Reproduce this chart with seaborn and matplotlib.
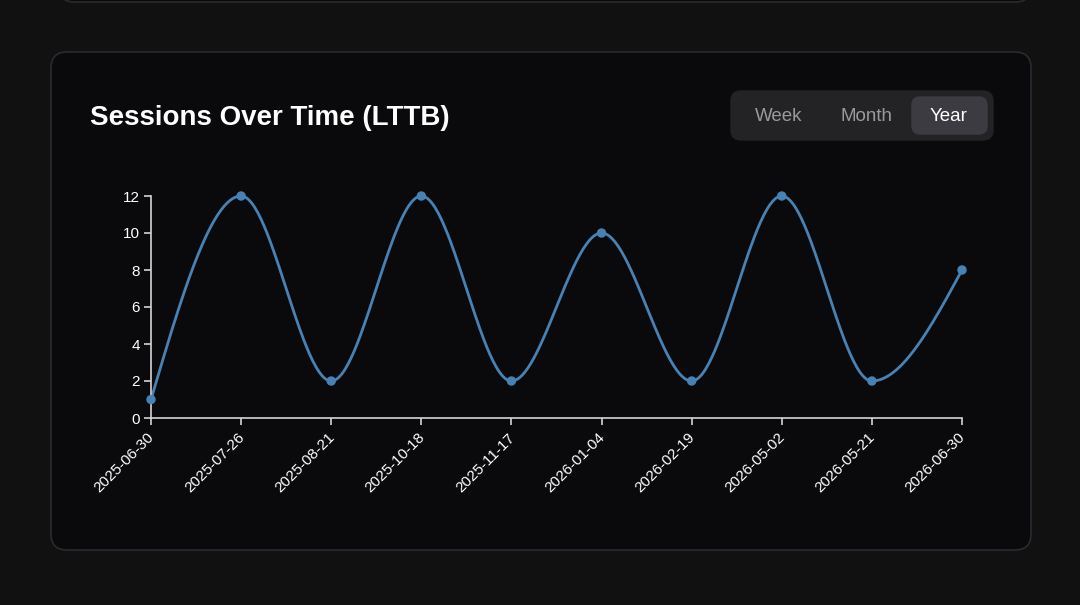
import numpy as np
import pandas as pd
import matplotlib
matplotlib.use("Agg")
import matplotlib.pyplot as plt
import matplotlib.transforms as mtransforms
import seaborn as sns
from matplotlib.patches import FancyBboxPatch

# data
dates = ["2025-06-30", "2025-07-26", "2025-08-21", "2025-10-18", "2025-11-17",
         "2026-01-04", "2026-02-19", "2026-05-02", "2026-05-21", "2026-06-30"]
sessions = [1, 12, 2, 12, 2, 10, 2, 12, 2, 8]
y_ticks = [0, 2, 4, 6, 8, 10, 12]
ranges = ["Week", "Month", "Year"]
active_range = "Year"
title = "Sessions Over Time (LTTB)"

LINE = "#4682b4"
BG = "#111112"
CARD = "#0a0a0c"
BORDER = "#2b2b2f"
AXIS = "#d4d4d4"


def monotone_x(xs, ys, n=60):
    # same smoothing as a monotone-x curve: flat at extrema, no overshoot
    xs = np.asarray(xs, float)
    ys = np.asarray(ys, float)
    h = np.diff(xs)
    s = np.diff(ys) / h
    sgn = lambda v: -1.0 if v < 0 else 1.0
    t = np.zeros(len(xs))
    for i in range(1, len(xs) - 1):
        p = (s[i - 1] * h[i] + s[i] * h[i - 1]) / (h[i - 1] + h[i])
        t[i] = (sgn(s[i - 1]) + sgn(s[i])) * min(abs(s[i - 1]), abs(s[i]), 0.5 * abs(p))
    t[0] = (3 * s[0] - t[1]) / 2
    t[-1] = (3 * s[-1] - t[-2]) / 2
    out_x, out_y = [], []
    u = np.linspace(0, 1, n)
    for i in range(len(xs) - 1):
        dx = h[i] / 3
        px = [xs[i], xs[i] + dx, xs[i + 1] - dx, xs[i + 1]]
        py = [ys[i], ys[i] + dx * t[i], ys[i + 1] - dx * t[i + 1], ys[i + 1]]
        b = [(1 - u) ** 3, 3 * u * (1 - u) ** 2, 3 * u ** 2 * (1 - u), u ** 3]
        out_x.extend(sum(b[k] * px[k] for k in range(4)))
        out_y.extend(sum(b[k] * py[k] for k in range(4)))
    return np.array(out_x), np.array(out_y)


df = pd.DataFrame({"pos": np.arange(len(dates)), "date": dates, "sessions": sessions})
cx, cy = monotone_x(df["pos"], df["sessions"])
curve = pd.DataFrame({"x": cx, "y": cy})

sns.set_theme(style="ticks")
plt.rcParams["font.family"] = ["Liberation Sans", "DejaVu Sans"]

W, H = 1080, 605
fig = plt.figure(figsize=(W / 100, H / 100), dpi=100)
fig.patch.set_facecolor(BG)


def px_box(x0, y0, x1, y1, r, fc, ec=None, lw=1.0, z=0):
    # box given in pixel coords with top-left origin
    box = FancyBboxPatch((x0 / W, 1 - y1 / H), (x1 - x0) / W, (y1 - y0) / H,
                         boxstyle=f"round,pad=0,rounding_size={r / W}",
                         transform=fig.transFigure, facecolor=fc,
                         edgecolor=ec if ec else fc, linewidth=lw, zorder=z,
                         mutation_aspect=W / H)
    fig.patches.append(box)


# card above (only the bottom edge shows) and main card
px_box(60, -60, 1030, 2, 14, CARD, BORDER, 1.2)
px_box(51, 52, 1031, 550, 16, CARD, BORDER, 1.2)

fig.text(90 / W, 1 - 118 / H, title, color="white", fontsize=20,
         fontweight="bold", va="center", ha="left")

# range toggle
px_box(731, 91, 993, 140, 10, "#232326", z=1)
px_box(912, 97, 987, 134, 8, "#3b3b41", z=2)
for label, xc in zip(ranges, [779, 866, 949]):
    fig.text(xc / W, 1 - 117 / H, label, fontsize=13.5, ha="center", va="center",
             color="white" if label == active_range else "#9a9a9e", zorder=3)

ax = fig.add_axes([151 / W, 1 - 418 / H, (962 - 151) / W, (418 - 196) / H])
ax.set_zorder(5)
ax.set_facecolor("none")
sns.lineplot(data=curve, x="x", y="y", ax=ax, color=LINE, linewidth=2.0,
             estimator=None, sort=False)
sns.scatterplot(data=df, x="pos", y="sessions", ax=ax, color=LINE, s=46,
                edgecolor="none", zorder=3)
for coll in ax.collections:
    coll.set_clip_on(False)
for ln in ax.lines:
    ln.set_clip_on(False)

ax.set_xlim(0, len(dates) - 1)
ax.set_ylim(0, 12)
ax.set_xticks(df["pos"])
ax.set_xticklabels(dates, rotation=45, ha="right", rotation_mode="anchor")
ax.set_yticks(y_ticks)
ax.set_xlabel("")
ax.set_ylabel("")
for side in ["top", "right"]:
    ax.spines[side].set_visible(False)
for side in ["left", "bottom"]:
    ax.spines[side].set_color(AXIS)
    ax.spines[side].set_linewidth(1.2)
ax.tick_params(colors=AXIS, labelcolor="white", labelsize=11, length=5, width=1.2, pad=3)
ax.tick_params(axis="x", pad=4)

shift = mtransforms.ScaledTranslation(-4 / 100, 0, fig.dpi_scale_trans)
for lab in ax.get_xticklabels():
    lab.set_transform(lab.get_transform() + shift)

fig.savefig("out.png", dpi=100, facecolor=BG)
